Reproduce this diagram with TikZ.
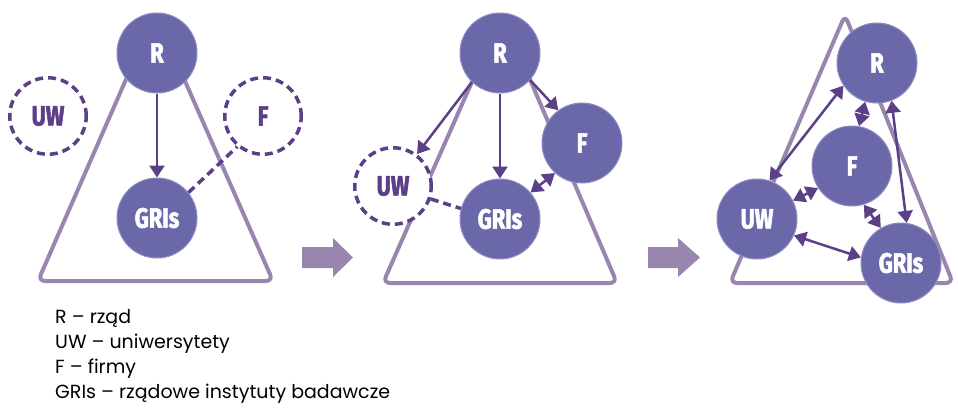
\documentclass[tikz,border=0pt]{standalone}
\usepackage{fontspec}
\setmainfont{Poppins}
\newfontfamily\nodefont[FakeStretch=0.78,FakeBold=2]{Fira Sans}
\newcommand\nodesize{\fontsize{28}{28}\selectfont}
\usetikzlibrary{arrows.meta}
\definecolor{nodefill}{HTML}{6A68A8}
\definecolor{nodeline}{HTML}{8F8CC4}
\definecolor{darkp}{HTML}{5B3F87}
\definecolor{trip}{HTML}{9886AE}
\tikzset{
  full/.style={circle, fill=nodefill, draw=nodeline, line width=1pt, minimum size=80pt, inner sep=0pt, text=white, font=\nodefont\bfseries\nodesize},
  ghost/.style={circle, fill=white, draw=darkp, dash pattern=on 8pt off 5pt, line width=3.5pt, minimum size=76.5pt, inner sep=0pt, text=darkp, font=\nodefont\bfseries\nodesize},
  link/.style={draw=darkp, line width=2.5pt, -{Triangle[length=12pt,width=15pt]}},
  both/.style={draw=darkp, line width=2.5pt, {Triangle[length=12pt,width=15pt]}-{Triangle[length=12pt,width=15pt]}},
  dline/.style={draw=darkp, line width=3.5pt, dash pattern=on 8pt off 5pt},
  tri/.style={draw=trip, line width=4pt, rounded corners=7pt, line join=round},
  bigarrow/.style={fill=trip, draw=none},
  legend/.style={anchor=base west, inner sep=0pt, font=\fontsize{19}{22}\selectfont, text=black}
}
\begin{document}
\begin{tikzpicture}[x=1pt, y=-1pt]
\useasboundingbox (0,0) rectangle (958,412);
% ---------- panel 1 ----------
\draw[tri] (155,13) -- (273,281) -- (38,281) -- cycle;
\node[full] (r1) at (157,53) {R};
\node[full] (g1) at (157,218) {GRIs};
\node[ghost] (u1) at (48,116) {UW};
\node[ghost] (f1) at (263,116) {F};
\draw[link] (r1) -- (g1);
\draw[dline] (g1.39) -- (f1.230);
% big arrow 1
\fill[bigarrow] (302,247) -- (333,247) -- (333,238) -- (353,257.5) -- (333,277) -- (333,268) -- (302,268) -- cycle;
% ---------- panel 2 ----------
\draw[tri] (502,14) -- (617,283) -- (383,283) -- cycle;
\node[ghost] (u2) at (393,186) {UW};
\node[full] (r2) at (500,53) {R};
\node[full] (f2) at (582,143) {F};
\node[full] (g2) at (500,219) {GRIs};
\draw[link] (r2.226) -- (u2.53);
\draw[link] (r2) -- (g2);
\draw[link] (r2.318) -- (f2.126);
\draw[both] (f2.228) -- (g2.41);
\draw[dline] (u2.341) -- (g2.165);
% big arrow 2
\fill[bigarrow] (648,247) -- (678,247) -- (678,238) -- (700,257.5) -- (678,277) -- (678,268) -- (648,268) -- cycle;
% ---------- panel 3 ----------
\draw[tri] (845,15) -- (953,283) -- (730,283) -- cycle;
\node[full] (r3) at (877,63) {R};
\node[full] (f3) at (852,166) {F};
\node[full] (u3) at (757,219) {UW};
\node[full] (g3) at (901,263) {GRIs};
\draw[both] (u3.72) -- (r3.214);
\draw[both] (r3.253) -- (f3.80);
\draw[both] (r3.291) -- (g3.82);
\draw[both] (u3.27) -- (f3.213);
\draw[both] (f3.287) -- (g3.120);
\draw[both] (u3.336) -- (g3.172);
% ---------- legend ----------
\node[legend] (l1) at (55,323) {R – rząd};
\node[legend] (l2) at (55,348) {UW – uniwersytety};
\node[legend] (l3) at (55,373) {F – firmy};
\node[legend] (l4) at (55,398) {GRIs – rządowe instytuty badawcze};
\end{tikzpicture}
\end{document}
